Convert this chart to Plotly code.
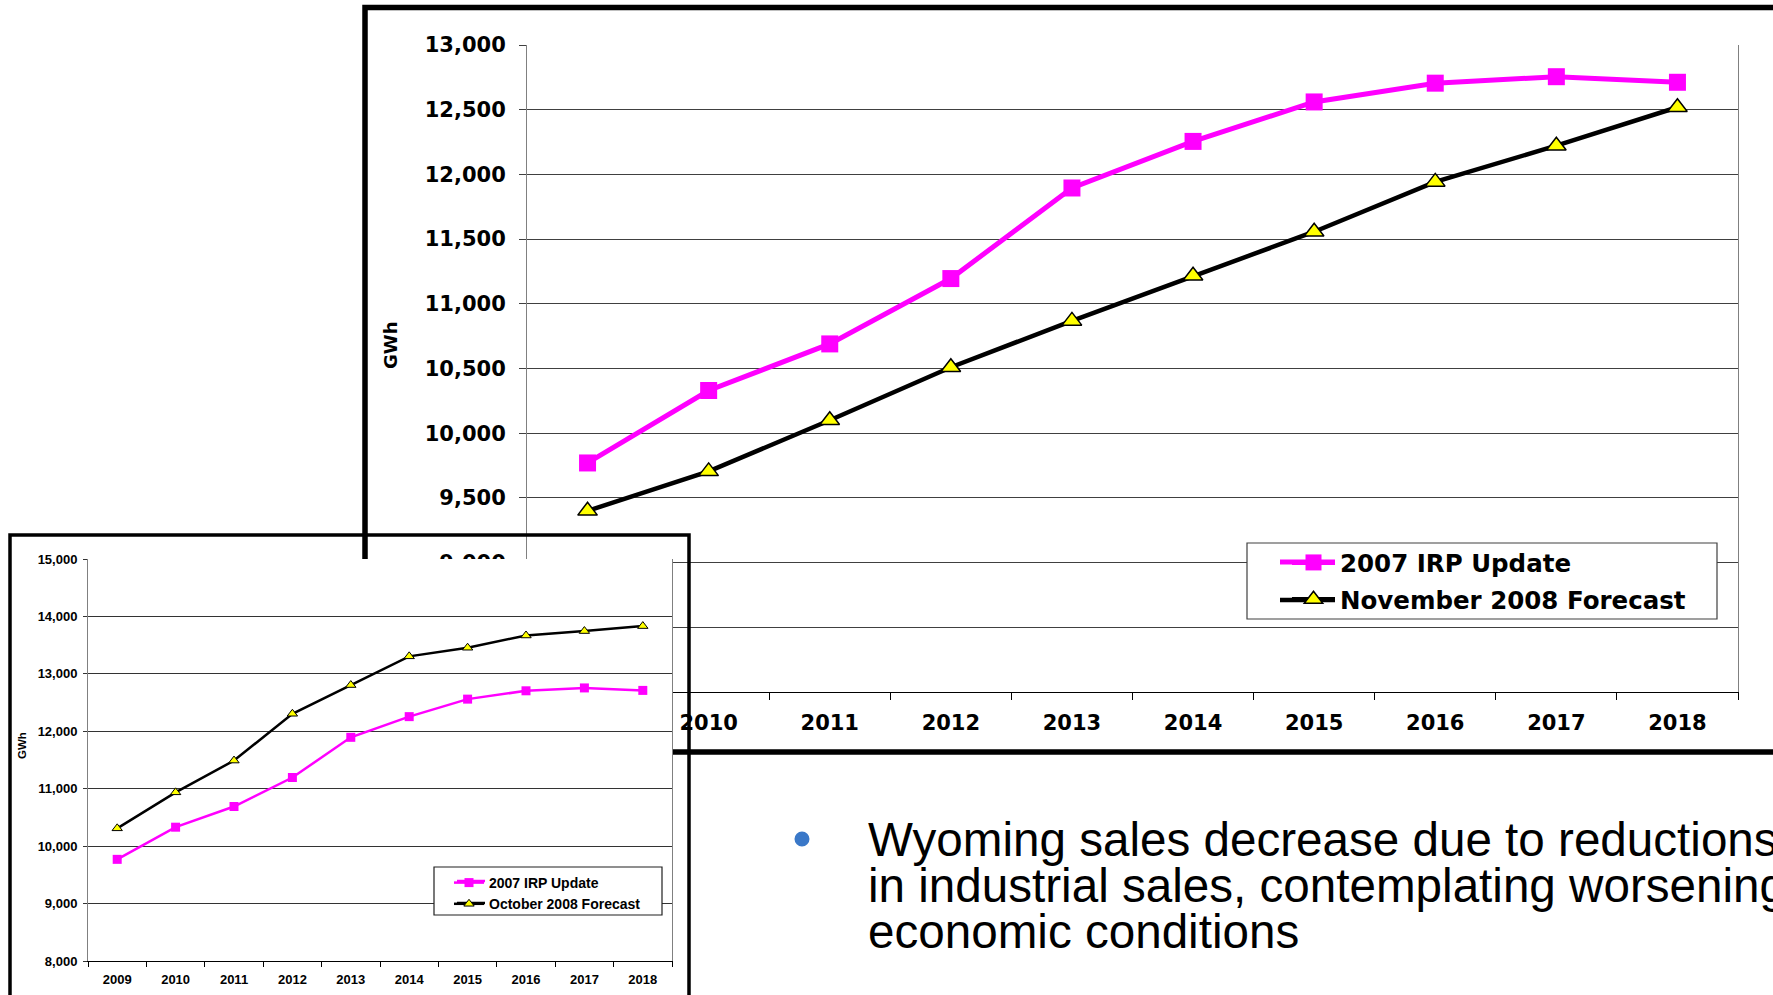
import plotly.graph_objects as go

W, H = 1773, 995

# ---------------- data ----------------
years = ['2009', '2010', '2011', '2012', '2013', '2014', '2015', '2016', '2017', '2018']
irp_2007 = [9770, 10330, 10690, 11195, 11895, 12255, 12560, 12705, 12755, 12712]
nov_2008_forecast = [9400, 9705, 10100, 10510, 10868, 11217, 11557, 11942, 12222, 12519]
oct_2008_forecast = [10310, 10937, 11490, 12305, 12805, 13305, 13455, 13668, 13745, 13832]

big_yticks = list(range(8000, 13001, 500))
small_yticks = list(range(8000, 15001, 1000))

bullet_lines = [
    'Wyoming sales decrease due to reductions',
    'in industrial sales, contemplating worsening',
    'economic conditions',
]

PINK = '#FF00FF'
YELLOW = '#FFFF00'


def px(x):
    return x / W


def py(y):
    return 1 - y / H


fig = go.Figure()

# ---- big chart (November 2008) ----
fig.add_trace(go.Scatter(
    x=years, y=irp_2007, name='2007 IRP Update', mode='lines+markers',
    line=dict(color=PINK, width=5),
    marker=dict(symbol='square', size=17, color=PINK),
    xaxis='x', yaxis='y', legend='legend', legendgroup='big_a'))
fig.add_trace(go.Scatter(
    x=years, y=nov_2008_forecast, name='November 2008 Forecast', mode='lines+markers',
    line=dict(color='black', width=4.5),
    marker=dict(symbol='triangle-up', size=17, color=YELLOW, line=dict(color='black', width=1.5)),
    xaxis='x', yaxis='y', legend='legend', legendgroup='big_b'))

# ---- small chart (October 2008) ----
fig.add_trace(go.Scatter(
    x=years, y=irp_2007, name='2007 IRP Update', mode='lines+markers',
    line=dict(color=PINK, width=2.5),
    marker=dict(symbol='square', size=9, color=PINK),
    xaxis='x2', yaxis='y2', legend='legend2'))
fig.add_trace(go.Scatter(
    x=years, y=oct_2008_forecast, name='October 2008 Forecast', mode='lines+markers',
    line=dict(color='black', width=2.5),
    marker=dict(symbol='triangle-up', size=9, color=YELLOW, line=dict(color='black', width=1)),
    xaxis='x2', yaxis='y2', legend='legend2'))

big_font = dict(family='DejaVu Sans', size=21, color='black', weight='bold')
small_font = dict(family='Liberation Sans', size=13, color='black', weight='bold')

shapes = [
    # big chart frame (goes off the right edge)
    dict(type='rect', xref='paper', yref='paper', x0=px(365), x1=px(1800), y0=py(752), y1=py(7.5),
         line=dict(color='black', width=5.5), fillcolor='rgba(0,0,0,0)', layer='below'),
    # small chart plot-area white backing
    dict(type='rect', xref='x2 domain', yref='y2 domain', x0=0, x1=1, y0=0, y1=1,
         line=dict(width=0), fillcolor='white', layer='below'),
    # small chart frame (goes off the bottom edge)
    dict(type='rect', xref='paper', yref='paper', x0=px(10), x1=px(689), y0=py(1010), y1=py(535),
         line=dict(color='black', width=3.5), fillcolor='rgba(0,0,0,0)', layer='above'),
    # big legend box
    dict(type='rect', xref='paper', yref='paper', x0=px(1247), x1=px(1717), y0=py(619), y1=py(543),
         line=dict(color='#404040', width=1.2), fillcolor='white', layer='above'),
    # small legend box
    dict(type='rect', xref='paper', yref='paper', x0=px(434), x1=px(662), y0=py(915), y1=py(867),
         line=dict(color='#202020', width=1.2), fillcolor='white', layer='above'),
    # legend symbol line extensions
    dict(type='line', xref='paper', yref='paper', x0=px(1280), x1=px(1335), y0=py(562), y1=py(562),
         line=dict(color=PINK, width=5), layer='above'),
    dict(type='line', xref='paper', yref='paper', x0=px(1280), x1=px(1335), y0=py(600), y1=py(600),
         line=dict(color='black', width=4.5), layer='above'),
    dict(type='line', xref='paper', yref='paper', x0=px(457), x1=px(485), y0=py(881), y1=py(881),
         line=dict(color=PINK, width=2.5), layer='above'),
    dict(type='line', xref='paper', yref='paper', x0=px(457), x1=px(485), y0=py(903), y1=py(903),
         line=dict(color='black', width=2.5), layer='above'),
    # bullet
    dict(type='circle', xref='paper', yref='paper', x0=px(794.5), x1=px(809.5), y0=py(846.5), y1=py(831.5),
         line=dict(width=0), fillcolor='#3A78C8', layer='above'),
]

annotations = [
    dict(text='GWh', textangle=-90, xref='paper', yref='paper', x=px(390), y=py(346),
         showarrow=False, xanchor='center', yanchor='middle',
         font=dict(family='DejaVu Sans', size=18, color='black', weight='bold')),
    dict(text='GWh', textangle=-90, xref='paper', yref='paper', x=px(22), y=py(746),
         showarrow=False, xanchor='center', yanchor='middle',
         font=dict(family='Liberation Sans', size=11.5, color='black', weight='bold')),
]
for i, line_text in enumerate(bullet_lines):
    annotations.append(dict(
        text=line_text, xref='paper', yref='paper', x=px(866), y=py(839 + 46 * i),
        showarrow=False, xanchor='left', yanchor='middle',
        font=dict(family='Liberation Sans', size=47.6, color='black')))

fig.update_layout(
    template='none',
    width=W, height=H, margin=dict(l=0, r=0, t=0, b=0, pad=0, autoexpand=False),
    paper_bgcolor='white', plot_bgcolor='white',
    showlegend=True,
    xaxis=dict(domain=[px(527), px(1738)], anchor='y', type='category', range=[-0.5, 9.5],
               automargin=False,
               showgrid=False, zeroline=False, showline=True, linecolor='black', linewidth=1,
               ticks='outside', tickson='boundaries', ticklen=7, tickcolor='black',
               tickfont=big_font, ticklabelstandoff=12),
    yaxis=dict(domain=[py(692), py(45)], anchor='x', range=[8000, 13000], tickvals=big_yticks,
               automargin=False,
               tickformat=',d', showgrid=True, gridcolor='#404040', gridwidth=1, zeroline=False,
               showline=True, linecolor='#808080', linewidth=1, mirror=True,
               ticks='outside', ticklen=7, tickcolor='#404040',
               tickfont=big_font, ticklabelstandoff=9),
    xaxis2=dict(domain=[px(88), px(672)], anchor='y2', type='category', range=[-0.5, 9.5],
                automargin=False,
                showgrid=False, zeroline=False, showline=True, linecolor='black', linewidth=1,
                ticks='outside', tickson='boundaries', ticklen=5, tickcolor='black',
                tickfont=small_font, ticklabelstandoff=6),
    yaxis2=dict(domain=[py(961), py(559)], anchor='x2', range=[8000, 15000], tickvals=small_yticks,
                automargin=False,
                tickformat=',d', showgrid=True, gridcolor='#333333', gridwidth=1, zeroline=False,
                showline=True, linecolor='#808080', linewidth=1, mirror=True,
                ticks='outside', ticklen=4, tickcolor='#333333',
                tickfont=small_font, ticklabelstandoff=3),
    legend=dict(x=px(1287), y=py(540), xanchor='left', yanchor='top',
                bgcolor='rgba(0,0,0,0)', borderwidth=0, itemwidth=43,
                traceorder='grouped', tracegroupgap=2,
                font=dict(family='DejaVu Sans', size=24.5, color='black', weight='bold')),
    legend2=dict(x=px(449), y=py(867), xanchor='left', yanchor='top',
                 bgcolor='rgba(0,0,0,0)', borderwidth=0, itemwidth=30,
                 font=dict(family='Liberation Sans', size=14, color='black', weight='bold')),
    shapes=shapes,
    annotations=annotations,
)

fig.write_html("out.html", config={'displayModeBar': False},
               post_script="document.body.style.margin='0';document.body.style.overflow='hidden';")
